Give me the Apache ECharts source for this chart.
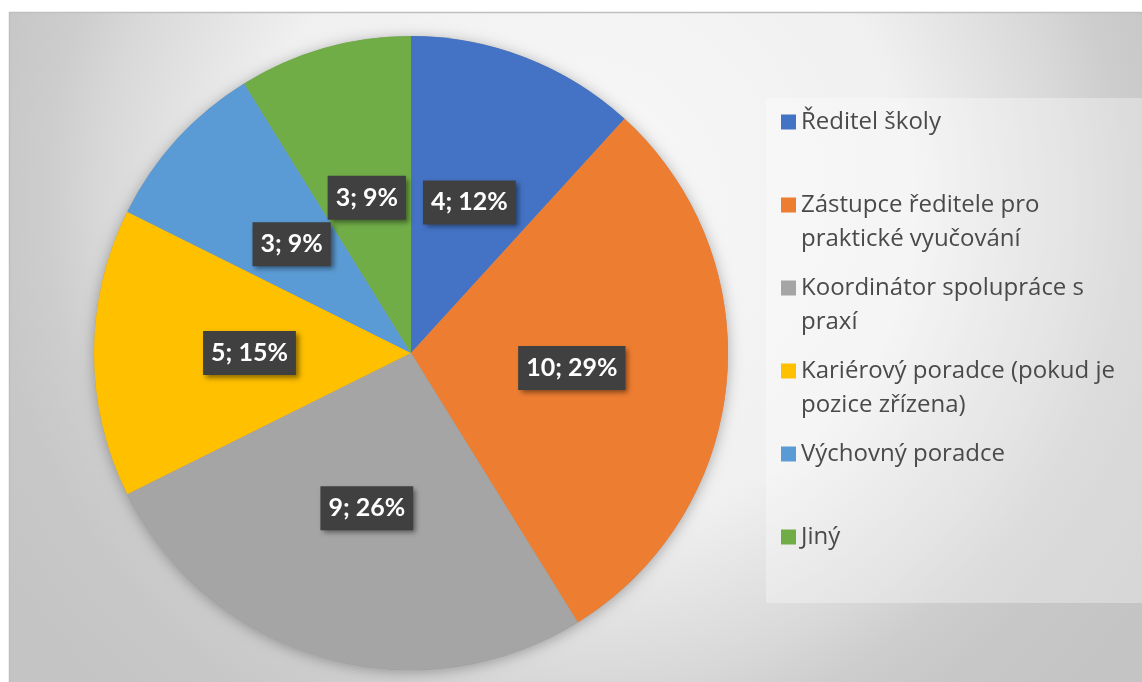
<!DOCTYPE html>
<html>
<head>
<meta charset="utf-8">
<script src="https://cdn.jsdelivr.net/npm/echarts@6/dist/echarts.min.js"></script>
<style>
html, body { margin: 0; padding: 0; background: #fff; }
#chart { width: 1142px; height: 682px; }
</style>
</head>
<body>
<div id="chart"></div>
<script>
var myChart = echarts.init(document.getElementById('chart'));

// kategorie (zalomení řádků jako v legendě originálu)
var categories = [
    'Ředitel školy',
    'Zástupce ředitele pro\npraktické vyučování',
    'Koordinátor spolupráce s\npraxí',
    'Kariérový poradce (pokud je\npozice zřízena)',
    'Výchovný poradce',
    'Jiný'
];
var counts = [4, 10, 9, 5, 3, 3];
var colors = ['#4472C4', '#ED7D31', '#A5A5A5', '#FFC000', '#5B9BD5', '#70AD47'];

var pieData = categories.map(function (name, i) {
    return { name: name, value: counts[i], itemStyle: { color: colors[i] } };
});

var LH = 34;   // výška řádku legendy

var option = {
    animation: false,
    backgroundColor: '#ffffff',
    graphic: [
        {   // plocha grafu s radiálním přechodem
            type: 'rect',
            z: 0,
            silent: true,
            shape: { x: 9.5, y: 12.5, width: 1140, height: 680 },
            style: {
                fill: new echarts.graphic.RadialGradient(585, 200, 700, [
                    { offset: 0, color: '#f8f8f8' },
                    { offset: 0.47, color: '#f0f0f0' },
                    { offset: 0.69, color: '#d8d8d8' },
                    { offset: 0.77, color: '#cdcdcd' },
                    { offset: 0.86, color: '#c7c7c7' },
                    { offset: 1, color: '#c4c4c4' }
                ], true),
                stroke: '#bfbfbf',
                lineWidth: 1.5
            }
        },
        {   // podklad legendy
            type: 'rect',
            z: 1,
            silent: true,
            shape: { x: 766, y: 98, width: 380, height: 505 },
            style: { fill: 'rgba(255,255,255,0.32)' }
        }
    ],
    legend: {
        data: categories,
        orient: 'vertical',
        left: 781,
        top: 122 - 1.5 * LH,
        padding: 0,
        itemGap: 83 - 3 * LH,
        icon: 'rect',
        itemWidth: 15,
        itemHeight: 15,
        selectedMode: false,
        // prázdný první řádek, aby značka stála u prvního řádku textu
        formatter: function (name) {
            return ' \n' + name + (name.indexOf('\n') < 0 ? '\n ' : '');
        },
        textStyle: {
            color: '#4a4a4a',
            fontFamily: 'Open Sans',
            fontSize: 24,
            lineHeight: LH
        }
    },
    series: [
        {   // stín pod koláčem
            type: 'pie',
            silent: true,
            center: [411, 353],
            radius: 317,
            data: [{ value: 1, name: '' }],
            label: { show: false },
            labelLine: { show: false },
            itemStyle: {
                color: '#999999',
                shadowBlur: 14,
                shadowColor: 'rgba(0,0,0,0.3)',
                shadowOffsetY: 2
            },
            z: 2
        },
        {
            name: 'Odpovědi',
            type: 'pie',
            center: [411, 353],
            radius: 317,
            startAngle: 90,
            clockwise: true,
            percentPrecision: 0,
            data: pieData,
            itemStyle: { borderWidth: 0 },
            labelLine: { show: false },
            emphasis: { disabled: true },
            label: {
                show: true,
                position: 'inside',
                formatter: '{c}; {d}%',
                color: '#ffffff',
                fontFamily: 'Lato',
                fontWeight: 'bold',
                fontSize: 25,
                lineHeight: 27,
                backgroundColor: '#404040',
                padding: [9, 8, 8, 8],
                shadowColor: 'rgba(0,0,0,0.45)',
                shadowBlur: 5,
                shadowOffsetX: 3,
                shadowOffsetY: 3
            },
            z: 3
        }
    ]
};

myChart.setOption(option);
</script>
</body>
</html>
